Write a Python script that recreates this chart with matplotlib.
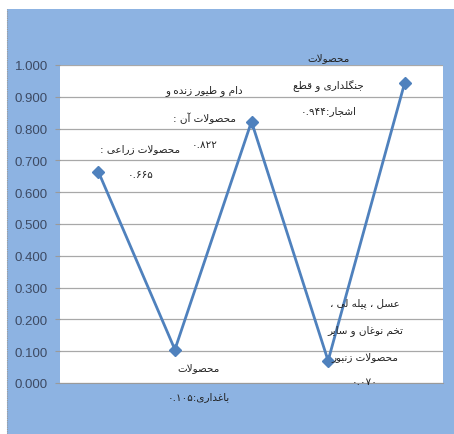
import re
import matplotlib
matplotlib.use("Agg")
import matplotlib.pyplot as plt
from matplotlib.patches import Rectangle

# ---- data -------------------------------------------------------------
values = [0.665, 0.105, 0.822, 0.070, 0.944]
label_lines = [
    ["محصولات زراعی :", "{v}"],
    ["محصولات", "باغداری:{v}"],
    ["دام و طیور زنده و", "محصولات آن :", "{v}"],
    ["عسل ، پیله لی ،", "تخم نوغان و سایر", "محصولات زنبور", "{v}"],
    ["محصولات", "جنگلداری و قطع", "اشجار:{v}"],
]
yticks = [0.0, 0.1, 0.2, 0.3, 0.4, 0.5, 0.6, 0.7, 0.8, 0.9, 1.0]

# label placement relative to each point (pixels): x shift, y shift per line
label_dx = [42, 24, -47, 37, -76]
label_dy = [
    [23, -2],
    [-17, -46],
    [32, 4, -22],
    [58, 31, 5, -20],
    [26, -2, -27],
]

# ---- minimal Arabic/Persian shaping and right-to-left ordering --------
# (isolated, final, initial, medial)
FORMS = {
    "ا": ("\uFE8D", "\uFE8E", None, None),
    "آ": ("\uFE81", "\uFE82", None, None),
    "ب": ("\uFE8F", "\uFE90", "\uFE91", "\uFE92"),
    "پ": ("\uFB56", "\uFB57", "\uFB58", "\uFB59"),
    "ت": ("\uFE95", "\uFE96", "\uFE97", "\uFE98"),
    "ث": ("\uFE99", "\uFE9A", "\uFE9B", "\uFE9C"),
    "ج": ("\uFE9D", "\uFE9E", "\uFE9F", "\uFEA0"),
    "چ": ("\uFB7A", "\uFB7B", "\uFB7C", "\uFB7D"),
    "ح": ("\uFEA1", "\uFEA2", "\uFEA3", "\uFEA4"),
    "خ": ("\uFEA5", "\uFEA6", "\uFEA7", "\uFEA8"),
    "د": ("\uFEA9", "\uFEAA", None, None),
    "ذ": ("\uFEAB", "\uFEAC", None, None),
    "ر": ("\uFEAD", "\uFEAE", None, None),
    "ز": ("\uFEAF", "\uFEB0", None, None),
    "ژ": ("\uFB8A", "\uFB8B", None, None),
    "س": ("\uFEB1", "\uFEB2", "\uFEB3", "\uFEB4"),
    "ش": ("\uFEB5", "\uFEB6", "\uFEB7", "\uFEB8"),
    "ص": ("\uFEB9", "\uFEBA", "\uFEBB", "\uFEBC"),
    "ض": ("\uFEBD", "\uFEBE", "\uFEBF", "\uFEC0"),
    "ط": ("\uFEC1", "\uFEC2", "\uFEC3", "\uFEC4"),
    "ظ": ("\uFEC5", "\uFEC6", "\uFEC7", "\uFEC8"),
    "ع": ("\uFEC9", "\uFECA", "\uFECB", "\uFECC"),
    "غ": ("\uFECD", "\uFECE", "\uFECF", "\uFED0"),
    "ف": ("\uFED1", "\uFED2", "\uFED3", "\uFED4"),
    "ق": ("\uFED5", "\uFED6", "\uFED7", "\uFED8"),
    "ک": ("\uFB8E", "\uFB8F", "\uFB90", "\uFB91"),
    "گ": ("\uFB92", "\uFB93", "\uFB94", "\uFB95"),
    "ل": ("\uFEDD", "\uFEDE", "\uFEDF", "\uFEE0"),
    "م": ("\uFEE1", "\uFEE2", "\uFEE3", "\uFEE4"),
    "ن": ("\uFEE5", "\uFEE6", "\uFEE7", "\uFEE8"),
    "ه": ("\uFEE9", "\uFEEA", "\uFEEB", "\uFEEC"),
    "و": ("\uFEED", "\uFEEE", None, None),
    "ی": ("\uFBFC", "\uFBFD", "\uFBFE", "\uFBFF"),
    "لا": ("\uFEFB", "\uFEFC", None, None),
    "لآ": ("\uFEF5", "\uFEF6", None, None),
}
TOKEN = re.compile(
    "[\u0621-\u064A\u067E\u0686\u0698\u06A9\u06AF\u06CC]+"
    "|[0-9\u06F0-\u06F9][0-9\u06F0-\u06F9.]*"
    "|.")
LETTER = re.compile("[\u0621-\u064A\u067E\u0686\u0698\u06A9\u06AF\u06CC]")


def shape_word(word):
    units = []
    i = 0
    while i < len(word):
        pair = word[i:i + 2]
        if pair in ("لا", "لآ"):
            units.append(pair)
            i += 2
        else:
            units.append(word[i])
            i += 1
    out = []
    for k, u in enumerate(units):
        f = FORMS.get(u)
        if f is None:
            out.append(u)
            continue
        prev = k > 0 and FORMS.get(units[k - 1], (0, 0, None))[2] is not None
        nxt = (f[2] is not None and k + 1 < len(units)
               and units[k + 1] in FORMS)
        if prev and nxt:
            out.append(f[3])
        elif prev:
            out.append(f[1])
        elif nxt:
            out.append(f[2])
        else:
            out.append(f[0])
    return "".join(reversed(out))


def rtl(text):
    """Visual (left-to-right drawable) form of a right-to-left line."""
    tokens = TOKEN.findall(text)
    shaped = [shape_word(t) if LETTER.match(t) else t for t in tokens]
    return "".join(reversed(shaped))


def fa_num(v):
    return f"{v:.3f}".translate(str.maketrans("0123456789", "۰۱۲۳۴۵۶۷۸۹"))


# ---- figure -----------------------------------------------------------
W, H = 454, 435
fig = plt.figure(figsize=(W / 100, H / 100), dpi=100, facecolor="white")

# blue chart area behind the plot
bg = Rectangle((7 / W, 0), 1 - 7 / W, (H - 10) / H,
               transform=fig.transFigure, facecolor="#8DB3E2",
               edgecolor="none", zorder=-10)
fig.add_artist(bg)
fig.add_artist(plt.Line2D([7 / W, 7 / W], [0, (H - 10) / H],
                          transform=fig.transFigure, color="#9a9a9a",
                          lw=0.8, ls=(0, (1, 1)), zorder=-9))

ax = fig.add_axes([60 / W, 51 / H, 383 / W, 318 / H])
ax.set_zorder(1)
ax.set_facecolor("white")

x = list(range(len(values)))
ax.plot(x, values, color="#4F81BD", lw=2.0, marker="D", markersize=6.5,
        markerfacecolor="#4F81BD", markeredgecolor="#4F81BD", zorder=3,
        clip_on=False)

ax.set_xlim(-0.5, len(values) - 0.5)
ax.set_ylim(0, 1.0)
ax.set_yticks(yticks)
ax.set_yticklabels([f"{t:.3f}" for t in yticks], fontfamily="Liberation Sans",
                   fontsize=9.5, color="#3d4a63")
ax.set_xticks([])
ax.grid(axis="y", color="#a8a8a8", lw=0.9)
ax.set_axisbelow(True)
for s in ("top", "right", "left"):
    ax.spines[s].set_visible(False)
ax.spines["bottom"].set_color("#9a9a9a")
ax.tick_params(axis="y", length=3.6, color="#9a9a9a", pad=5)

for i, (v, lines) in enumerate(zip(values, label_lines)):
    for line, dy in zip(lines, label_dy[i]):
        txt = rtl(line.replace("{v}", fa_num(v)))
        ax.annotate(txt, (x[i], v), xytext=(label_dx[i], dy),
                    textcoords="offset pixels", ha="center", va="center",
                    fontsize=7.5, color="#222222", fontfamily="DejaVu Sans",
                    annotation_clip=False, zorder=4)

fig.savefig("out.png", dpi=100, facecolor="white")
